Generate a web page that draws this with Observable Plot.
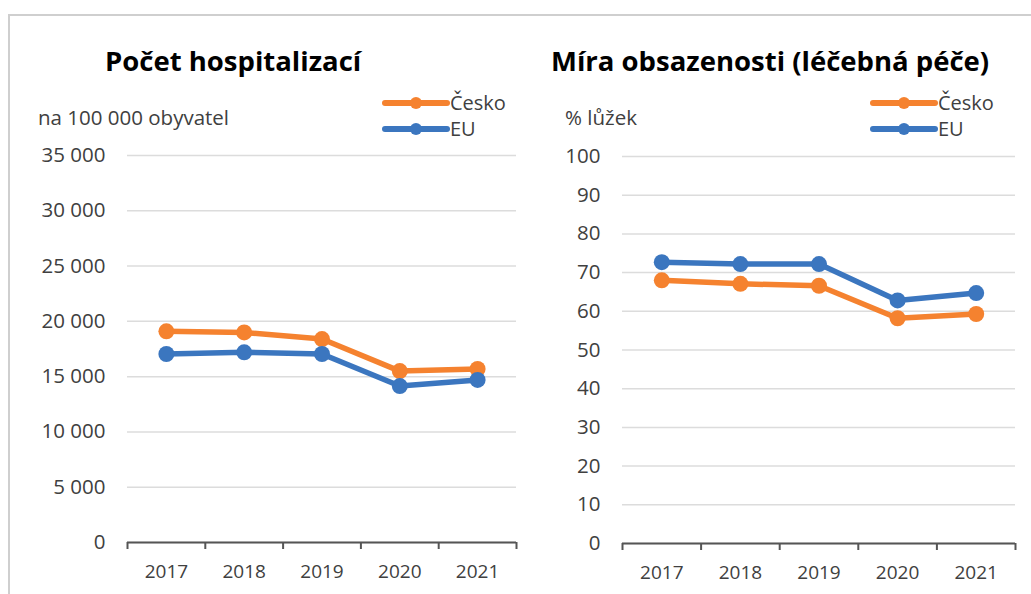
<!DOCTYPE html>
<html><head><meta charset="utf-8">
<script src="https://cdn.jsdelivr.net/npm/d3@7"></script>
<script src="https://cdn.jsdelivr.net/npm/@observablehq/plot@0.6"></script>
<style>
body{margin:0;background:#fff;font-family:"Open Sans",sans-serif;}
#root{position:relative;width:1031px;height:594px;overflow:hidden;background:#fff;}
#frame{position:absolute;left:8px;top:14px;width:1100px;height:700px;border-top:2px solid #cfcfcf;border-left:2px solid #cfcfcf;}
</style></head><body><div id="root"><div id="frame"></div></div>
<script>
// ---- data ----
const years = [2017, 2018, 2019, 2020, 2021];
const seriesNames = ["Česko", "EU"];
const hospCesko = [19100, 19000, 18400, 15500, 15700];
const hospEU = [17050, 17200, 17050, 14150, 14700];
const occCesko = [68.0, 67.1, 66.6, 58.2, 59.3];
const occEU = [72.7, 72.2, 72.2, 62.8, 64.7];
const hospTicks = [0, 5000, 10000, 15000, 20000, 25000, 30000, 35000];
const occTicks = [0, 10, 20, 30, 40, 50, 60, 70, 80, 90, 100];
const titles = ["Počet hospitalizací", "Míra obsazenosti (léčebná péče)"];
const units = ["na 100 000 obyvatel", "% lůžek"];

const colors = ["#F5822F", "#3B76BF"];
const FONT = '"Open Sans", sans-serif';
const csLocale = d3.formatLocale({decimal: ",", thousands: "\u00a0", grouping: [3], currency: ["", " Kč"]});
const fmtThousands = csLocale.format(",d");

function chart({cesko, eu, ticks, yMax, fmt, width, ml, mr, pad}) {
  const data = years.flatMap((yr, i) => [
    {year: yr, s: seriesNames[0], v: cesko[i]},
    {year: yr, s: seriesNames[1], v: eu[i]}
  ]);
  const bounds = d3.range(years[0] - 0.5, years[years.length - 1] + 1, 1);
  return Plot.plot({
    width, height: 450,
    marginTop: 16, marginBottom: 47, marginLeft: ml, marginRight: mr,
    x: {domain: [years[0] - 0.5, years[years.length - 1] + 0.5]},
    y: {domain: [0, yMax]},
    color: {domain: seriesNames, range: colors},
    style: {fontFamily: FONT, fontSize: "20px", color: "#404040", background: "transparent", overflow: "visible"},
    marks: [
      Plot.gridY(ticks, {stroke: "#dcdcdc", strokeOpacity: 1, strokeWidth: 1.5}),
      Plot.axisY(ticks, {tickSize: 0, tickPadding: pad, tickFormat: fmt, fontSize: 20.5, label: null}),
      Plot.axisX(bounds, {tickSize: 7, tickFormat: () => "", stroke: "#555", strokeWidth: 2, label: null}),
      Plot.axisX(years, {tickSize: 0, tickPadding: 22, tickFormat: d => String(d), fontSize: 19, label: null}),
      Plot.ruleY([0], {stroke: "#555", strokeWidth: 2}),
      Plot.line(data, {x: "year", y: "v", z: "s", stroke: "s", strokeWidth: 5.5}),
      Plot.dot(data, {x: "year", y: "v", fill: "s", r: 8})
    ]
  });
}

const root = document.getElementById("root");

const left = chart({cesko: hospCesko, eu: hospEU, ticks: hospTicks, yMax: 35000, fmt: fmtThousands, width: 530, ml: 127, mr: 14, pad: 22});
left.style.position = "absolute"; left.style.left = "0px"; left.style.top = "139px";
root.appendChild(left);

const right = chart({cesko: occCesko, eu: occEU, ticks: occTicks, yMax: 100, fmt: d => String(d), width: 501, ml: 92, mr: 16, pad: 22});
right.style.position = "absolute"; right.style.left = "530px"; right.style.top = "140px";
root.appendChild(right);

// titles, units and legends
const svg = d3.select(root).append("svg")
  .attr("width", 1031).attr("height", 140)
  .style("position", "absolute").style("left", "0px").style("top", "0px")
  .style("font-family", FONT);

const panels = [
  {titleX: 105, unitX: 38, legX: 385},
  {titleX: 551, unitX: 565, legX: 873}
];
panels.forEach((p, k) => {
  svg.append("text").attr("x", p.titleX).attr("y", 71)
    .attr("font-size", 27.5).attr("font-weight", 700).attr("fill", "#000").text(titles[k]);
  svg.append("text").attr("x", p.unitX).attr("y", 125)
    .attr("font-size", 20.5).attr("fill", "#404040").text(units[k]);
  seriesNames.forEach((name, j) => {
    const ly = 103 + j * 26;
    const g = svg.append("g");
    g.append("line").attr("x1", p.legX).attr("x2", p.legX + 62).attr("y1", ly).attr("y2", ly)
      .attr("stroke", colors[j]).attr("stroke-width", 6).attr("stroke-linecap", "round");
    g.append("circle").attr("cx", p.legX + 31).attr("cy", ly).attr("r", 6).attr("fill", colors[j]);
    g.append("text").attr("x", p.legX + 65).attr("y", ly + 6.5)
      .attr("font-size", 20).attr("fill", "#404040").text(name);
  });
});
</script></body></html>
